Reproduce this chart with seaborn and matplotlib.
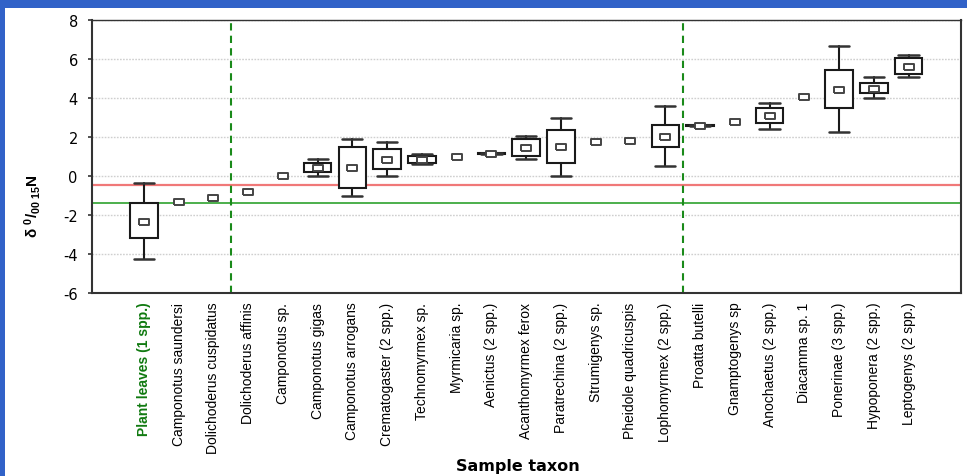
import numpy as np
import pandas as pd
import matplotlib
matplotlib.use("Agg")
import matplotlib.pyplot as plt
from matplotlib.patches import Rectangle
import seaborn as sns

# ---------------- data ----------------
categories = [
    "Plant leaves (1 spp.)", "Camponotus saundersi", "Dolichoderus cuspidatus",
    "Dolichoderus affinis", "Camponotus sp.", "Camponotus gigas",
    "Camponotus arrogans", "Crematogaster (2 spp.)", "Technomyrmex sp.",
    "Myrmicaria sp.", "Aenictus (2 spp.)", "Acanthomyrmex ferox",
    "Paratrechina (2 spp.)", "Strumigenys sp.", "Pheidole quadricuspis",
    "Lophomyrmex (2 spp.)", "Proatta butelli", "Gnamptogenys sp",
    "Anochaetus (2 spp.)", "Diacamma sp. 1", "Ponerinae (3 spp.)",
    "Hypoponera (2 spp.)", "Leptogenys (2 spp.)",
]
nan = np.nan
means = [-2.37, -1.34, -1.14, -0.83, 0.00, 0.40, 0.43, 0.84, 0.84, 0.98, 1.13,
         1.44, 1.50, 1.74, 1.81, 2.02, 2.56, 2.77, 3.07, 4.03, 4.42, 4.47, 5.60]
box_low = [-3.18, nan, nan, nan, nan, 0.21, -0.59, 0.36, 0.65, nan, 1.13,
           1.04, 0.67, nan, nan, 1.49, 2.56, nan, 2.70, nan, 3.47, 4.27, 5.21]
box_high = [-1.39, nan, nan, nan, nan, 0.67, 1.49, 1.37, 1.03, nan, 1.17,
            1.88, 2.37, nan, nan, 2.63, 2.60, nan, 3.50, nan, 5.44, 4.78, 6.04]
whisk_low = [-4.24, nan, nan, nan, nan, 0.02, -1.00, 0.02, 0.62, nan, 1.13,
             0.85, 0.02, nan, nan, 0.53, 2.56, nan, 2.39, nan, 2.24, 4.01, 5.07]
whisk_high = [-0.34, nan, nan, nan, nan, 0.85, 1.88, 1.72, 1.13, nan, 1.17,
              2.05, 2.99, nan, nan, 3.60, 2.60, nan, 3.75, nan, 6.64, 5.07, 6.17]
ref_red = -0.45
ref_green = -1.40
group_breaks = [2.5, 15.5]
y_ticks = [-6, -4, -2, 0, 2, 4, 6, 8]

df = pd.DataFrame({
    "taxon": categories, "mean": means, "q1": box_low, "q3": box_high,
    "lo": whisk_low, "hi": whisk_high,
})
df["pos"] = np.arange(len(df))

# ---------------- style ----------------
sns.set_style("white")
plt.rcParams["font.family"] = ["Liberation Sans", "DejaVu Sans"]
plt.rcParams["mathtext.fontset"] = "custom"
plt.rcParams["mathtext.rm"] = "Liberation Sans:bold"
plt.rcParams["mathtext.it"] = "Liberation Sans:bold"
plt.rcParams["mathtext.bf"] = "Liberation Sans:bold"

W, H = 967, 477
fig = plt.figure(figsize=(W / 100, H / 100), dpi=100)
fig.patch.set_facecolor("#3162c8")
bg = Rectangle((5 / W, 0), 1 - 5 / W, 1 - 9 / H, transform=fig.transFigure,
               facecolor="white", edgecolor="none", zorder=-10)
fig.patches.append(bg)

ax = fig.add_axes([91.7 / W, 1 - 294.3 / H, 869 / W, 273.6 / H])
ax.set_zorder(5)
ax.set_facecolor("white")

# gridlines
for yv in y_ticks:
    ax.axhline(yv, color="#cfcfcf", lw=1.0, ls=(0, (1.2, 1.0)), zorder=1)

# reference lines
ax.axhline(ref_red, color="#f07878", lw=1.6, zorder=2)
ax.axhline(ref_green, color="#4caf4c", lw=1.4, zorder=2)
for xb in group_breaks:
    ax.axvline(xb, color="#1a8a1a", lw=1.5, ls=(0, (3.5, 2.5)), zorder=2)

# boxes
boxed = df.dropna(subset=["q1"])
stats = [dict(med=r["mean"], q1=r["q1"], q3=r["q3"], whislo=r["lo"],
              whishi=r["hi"], fliers=[]) for _, r in boxed.iterrows()]
ax.bxp(stats, positions=boxed["pos"].to_numpy(), widths=0.79,
       capwidths=0.58, showfliers=False, patch_artist=True,
       boxprops=dict(facecolor="white", edgecolor="#1a1a1a", linewidth=1.5),
       whiskerprops=dict(color="#1a1a1a", linewidth=1.5),
       capprops=dict(color="#333333", linewidth=1.8),
       medianprops=dict(linewidth=0), manage_ticks=False, zorder=3)

# mean markers
rect = [(-1.55, -1), (1.55, -1), (1.55, 1), (-1.55, 1), (-1.55, -1)]
sns.scatterplot(data=df, x="pos", y="mean", ax=ax, marker=rect, s=56,
                facecolor="white", edgecolor="#444444", linewidth=1.4,
                zorder=4, legend=False)

# axes
ax.set_xlim(-1.5, 23.5)
ax.set_ylim(-6, 8)
ax.set_yticks(y_ticks)
ax.set_yticklabels([str(v) for v in y_ticks], fontsize=10.5,
                   family="DejaVu Sans")
ax.tick_params(axis="y", direction="out", length=3, width=1.2, pad=7,
               left=True, color="#333333", labelcolor="black")
ax.set_xticks(df["pos"].to_numpy())
ax.set_xticklabels(categories, rotation=90, fontsize=10, va="top")
ax.tick_params(axis="x", length=0, pad=6, labelcolor="black")
ax.get_xticklabels()[0].set_color("#117a11")
ax.get_xticklabels()[0].set_fontweight("bold")
ax.set_xlabel("")
ax.set_ylabel("")
for side in ["left", "bottom", "top", "right"]:
    ax.spines[side].set_visible(True)
    ax.spines[side].set_color("#333333")
ax.spines["left"].set_linewidth(1.5)
ax.spines["bottom"].set_linewidth(1.5)
ax.spines["top"].set_linewidth(1.0)
ax.spines["right"].set_linewidth(1.5)

fig.text(518 / W, 1 - 467 / H, "Sample taxon", ha="center", va="center",
         fontsize=11.5, fontweight="bold", family="DejaVu Sans", color="black")
fig.text(33 / W, 1 - 206 / H, r"$\delta\ ^{0}/_{00\ 15}N$", rotation=90,
         ha="center", va="center", fontsize=11, color="black")

fig.savefig("out.png", dpi=100, facecolor=fig.get_facecolor())
